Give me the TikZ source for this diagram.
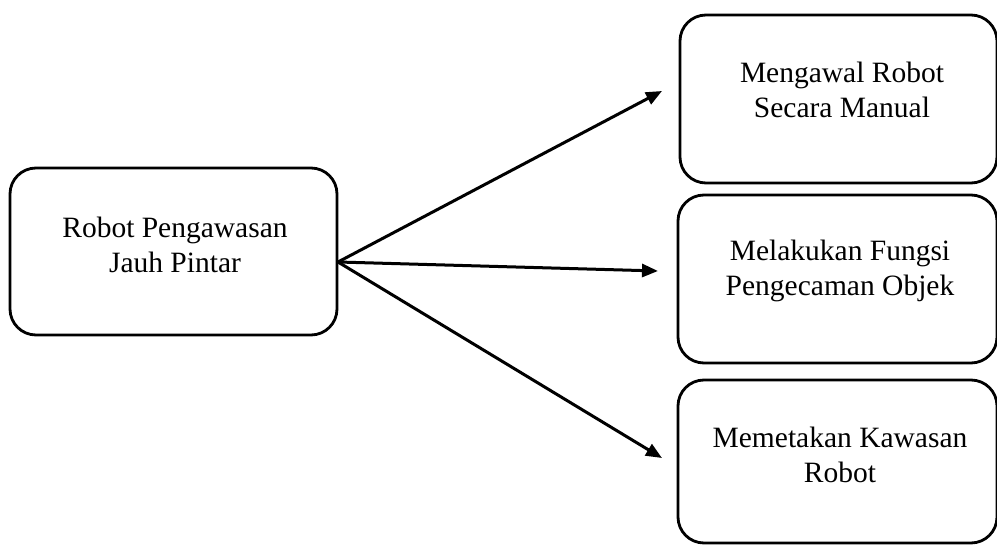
\documentclass[tikz,border=0pt]{standalone}
\usepackage{fontspec}
\setmainfont{Liberation Serif}
\usetikzlibrary{arrows.meta}
\begin{document}
\begin{tikzpicture}[x=1pt,y=-1pt,
  box/.style={draw=black,line width=2.8pt,rounded corners=26pt},
  lbl/.style={align=center,font=\fontsize{29.5}{35}\selectfont,inner sep=0pt},
  link/.style={line width=3pt,-{Triangle[length=16pt,width=13pt]}}]
  \path[use as bounding box,clip] (0,0) rectangle (997,545);
  \fill[white] (0,0) rectangle (997,545);

  % source box
  \draw[box] (10,168) rectangle (337,335);
  \node[lbl] (src) at (175,245) {Robot Pengawasan\\Jauh Pintar};
  \coordinate (out) at (338,262);

  % target boxes
  \draw[box] (680,15) rectangle (997,183);
  \node[lbl] (t1) at (842,90) {Mengawal Robot\\Secara Manual};
  \draw[box] (678,195) rectangle (997,363);
  \node[lbl] (t2) at (840,271) {Melakukan Fungsi\\Pengecaman Objek};
  \draw[box] (678,380) rectangle (997,543);
  \node[lbl] (t3) at (840,455) {Memetakan Kawasan\\Robot};

  % arrow heads end short of each box
  \coordinate (e1) at (662,91);
  \coordinate (e2) at (658,271);
  \coordinate (e3) at (662,458);

  \draw[link] (out) -- (e1);
  \draw[link] (out) -- (e2);
  \draw[link] (out) -- (e3);
\end{tikzpicture}
\end{document}
